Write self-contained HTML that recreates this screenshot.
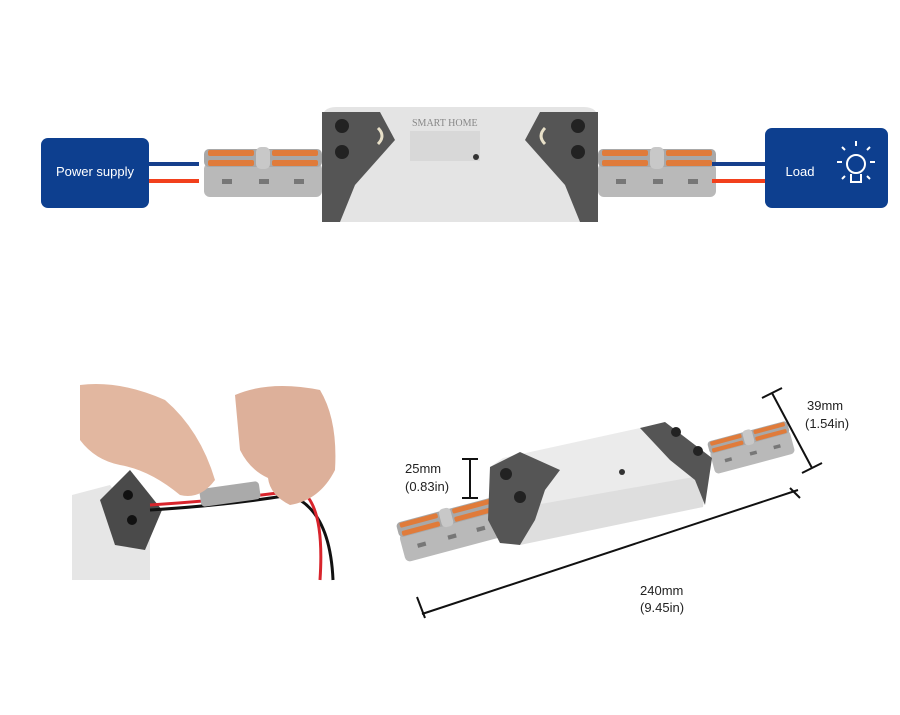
<!DOCTYPE html>
<html><head><meta charset="utf-8"><style>
html,body{margin:0;padding:0;background:#fff;}
svg{display:block;font-family:"Liberation Sans",sans-serif;}
</style></head><body>
<svg width="900" height="715" viewBox="0 0 900 715" xmlns="http://www.w3.org/2000/svg">
<defs>
<g id="conn">
  <rect x="0" y="18" width="118" height="34" rx="6" fill="#b9b9b9"/>
  <rect x="0" y="4" width="118" height="18" rx="5" fill="#a8a8a8"/>
  <rect x="4" y="5" width="46" height="6" rx="2" fill="#e07b3a"/>
  <rect x="4" y="15" width="46" height="6" rx="2" fill="#e07b3a"/>
  <rect x="68" y="5" width="46" height="6" rx="2" fill="#e07b3a"/>
  <rect x="68" y="15" width="46" height="6" rx="2" fill="#e07b3a"/>
  <rect x="52" y="2" width="14" height="22" rx="5" fill="#c8c8c8"/>
  <rect x="18" y="34" width="10" height="5" fill="#777"/>
  <rect x="55" y="34" width="10" height="5" fill="#777"/>
  <rect x="90" y="34" width="10" height="5" fill="#777"/>
</g>
</defs>

<!-- TOP -->
<rect x="41" y="138" width="108" height="70" rx="7" fill="#0d3f8f"/>
<text x="95" y="176" fill="#fff" font-size="13" text-anchor="middle">Power supply</text>
<rect x="149" y="162" width="50" height="4" fill="#163f8c"/>
<rect x="149" y="179" width="50" height="4" fill="#f2401c"/>
<use href="#conn" x="204" y="145"/>
<use href="#conn" x="598" y="145"/>
<rect x="712" y="162" width="53" height="4" fill="#163f8c"/>
<rect x="712" y="179" width="53" height="4" fill="#f2401c"/>
<rect x="765" y="128" width="123" height="80" rx="7" fill="#0d3f8f"/>
<text x="800" y="176" fill="#fff" font-size="13" text-anchor="middle">Load</text>
<g stroke="#fff" stroke-width="2" fill="none">
  <circle cx="856" cy="164" r="9"/>
  <path d="M851 174 v8 h10 v-8"/>
  <path d="M842 162h-5M870 162h5M845 150l-3-3M867 150l3-3M856 146v-5M845 176l-3 3M867 176l3 3"/>
</g>
<!-- device top -->
<path d="M336 107 L584 107 Q598 107 598 120 L598 222 L322 222 L322 120 Q322 107 336 107Z" fill="#e4e4e4"/>
<path d="M322 112 L380 112 L395 140 L355 185 L340 222 L322 222Z" fill="#555"/>
<path d="M598 112 L540 112 L525 140 L565 185 L580 222 L598 222Z" fill="#555"/>
<circle cx="342" cy="126" r="7" fill="#222"/><circle cx="342" cy="152" r="7" fill="#222"/>
<circle cx="578" cy="126" r="7" fill="#222"/><circle cx="578" cy="152" r="7" fill="#222"/>
<path d="M378 128 q8 8 0 16" stroke="#e8e0c8" stroke-width="3" fill="none"/>
<path d="M545 128 q-8 8 0 16" stroke="#e8e0c8" stroke-width="3" fill="none"/>
<text x="412" y="126" font-size="10" fill="#888" font-family="Liberation Serif,serif">SMART HOME</text>
<rect x="410" y="131" width="70" height="30" fill="#d8d8d8"/>
<circle cx="476" cy="157" r="3" fill="#333"/>

<!-- BOTTOM LEFT PHOTO -->
<rect x="72" y="380" width="266" height="200" fill="#fff"/>
<path d="M72 495 L110 485 L150 540 L150 580 L72 580Z" fill="#e6e6e6"/>
<path d="M100 500 L130 470 L162 510 L145 550 L115 545Z" fill="#4a4a4a"/>
<circle cx="128" cy="495" r="5" fill="#111"/><circle cx="132" cy="520" r="5" fill="#111"/>
<path d="M150 510 Q230 505 290 495 Q330 510 333 580" stroke="#111" stroke-width="3" fill="none"/>
<path d="M150 505 Q230 500 300 490 Q325 505 320 580" stroke="#d8242c" stroke-width="3" fill="none"/>
<rect x="200" y="485" width="60" height="18" rx="4" fill="#aaa" transform="rotate(-8 230 494)"/>
<path d="M80 385 Q120 380 165 400 Q200 430 215 480 Q200 500 180 495 Q150 470 120 465 Q95 460 80 440Z" fill="#e2b7a0"/>
<path d="M235 395 Q270 380 320 390 Q338 420 335 470 Q320 500 290 505 Q270 495 268 478 Q250 470 240 450Z" fill="#ddb09a"/>

<!-- BOTTOM RIGHT DEVICE -->
<g transform="translate(397 528) rotate(-15)"><use href="#conn" x="0" y="-10" transform="scale(0.85)"/></g>
<g transform="translate(708 446) rotate(-15)"><use href="#conn" x="0" y="-10" transform="scale(0.7)"/></g>
<path d="M503 458 L663 423 L712 458 L703 507 L500 543 L490 467Z" fill="#ebebeb"/>
<path d="M535 505 L705 475 L703 507 L520 545Z" fill="#dedede"/>
<path d="M490 467 L520 452 L560 470 L545 490 L535 520 L520 545 L500 543 L488 520Z" fill="#555"/>
<path d="M640 428 L665 422 L712 458 L705 505 L695 480 L670 460Z" fill="#555"/>
<circle cx="506" cy="474" r="6" fill="#222"/><circle cx="520" cy="497" r="6" fill="#222"/>
<circle cx="676" cy="432" r="5" fill="#222"/><circle cx="698" cy="451" r="5" fill="#222"/>
<circle cx="622" cy="472" r="3" fill="#333"/>

<!-- dimensions -->
<g stroke="#111" stroke-width="2" fill="none">
  <path d="M470 459 V498 M462 459 H478 M462 498 H478"/>
  <path d="M772 393 L812 468 M762 398 L782 388 M802 473 L822 463"/>
  <path d="M422 614 L798 490 M417 597 L425 618 M790 488 L800 498"/>
</g>
<g font-size="13" fill="#222">
<text x="405" y="473">25mm</text><text x="405" y="491">(0.83in)</text>
<text x="807" y="410">39mm</text><text x="805" y="428">(1.54in)</text>
<text x="640" y="595">240mm</text><text x="640" y="612">(9.45in)</text>
</g>
</svg>
</body></html>
